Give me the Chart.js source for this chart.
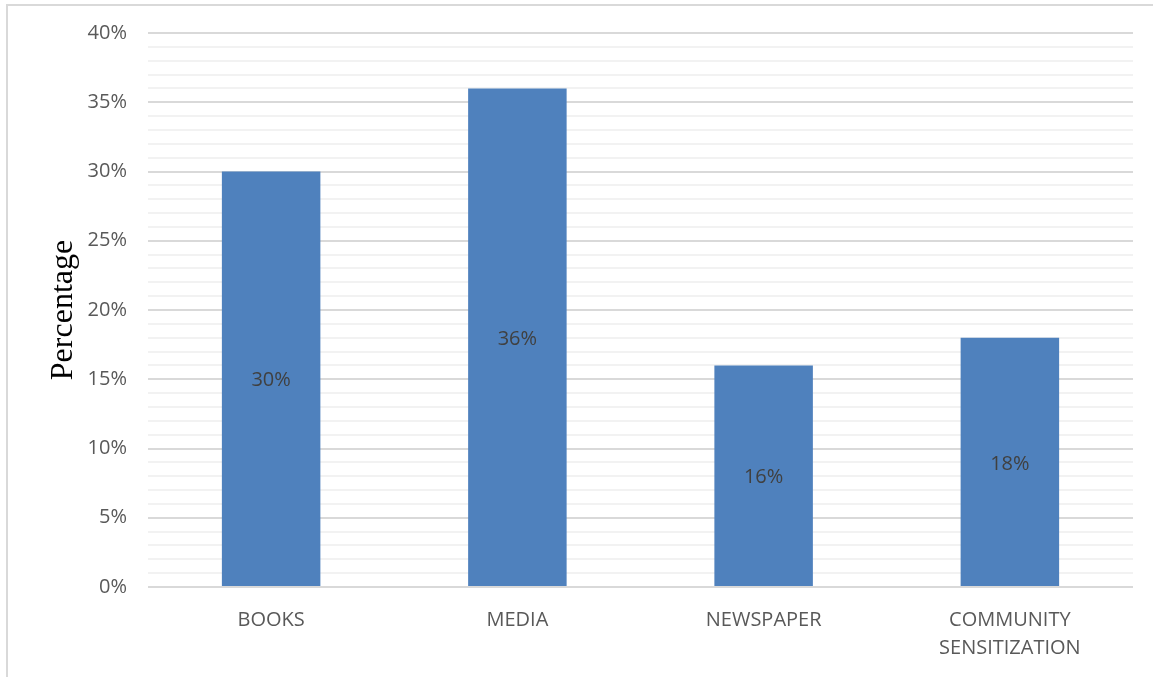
<!DOCTYPE html>
<html>
<head>
<meta charset="utf-8">
<script src="https://cdn.jsdelivr.net/npm/chart.js@4/dist/chart.umd.min.js"></script>
<style>
  html, body { margin: 0; padding: 0; background: #fff; overflow: hidden; }
  #frame { position: absolute; left: 6px; top: 4px; width: 1160px; height: 720px; border: 2px solid #d9d9d9; box-sizing: border-box; }
  #wrap { position: absolute; left: 0; top: 0; width: 1153px; height: 677px; }
</style>
</head>
<body>
<div id="frame"></div>
<div id="wrap"><canvas id="c" width="1153" height="677"></canvas></div>
<script>
const categories = [["BOOKS"], ["MEDIA"], ["NEWSPAPER"], ["COMMUNITY", "SENSITIZATION"]];
const values = [30, 36, 16, 18];
const yTitle = "Percentage";
const yMin = 0, yMax = 40, majorStep = 5, minorStep = 1;

const barLabels = {
  id: 'barLabels',
  afterDatasetsDraw(chart) {
    const ctx = chart.ctx;
    const meta = chart.getDatasetMeta(0);
    ctx.save();
    ctx.font = '20px "Open Sans"';
    ctx.fillStyle = '#404040';
    ctx.textAlign = 'center';
    ctx.textBaseline = 'middle';
    meta.data.forEach((bar, i) => {
      const p = bar.getProps(['x', 'y', 'base'], true);
      ctx.fillText(values[i] + '%', p.x, (p.y + p.base) / 2 + 2);
    });
    ctx.restore();
  }
};

new Chart(document.getElementById('c'), {
  type: 'bar',
  data: {
    labels: categories,
    datasets: [{
      data: values,
      backgroundColor: '#4f81bd',
      borderWidth: 0,
      categoryPercentage: 1,
      barPercentage: 0.4
    }]
  },
  options: {
    responsive: false,
    animation: false,
    events: [],
    layout: { padding: { top: 27, right: 20, left: 0, bottom: 0 } },
    plugins: { legend: { display: false }, tooltip: { enabled: false } },
    scales: {
      x: {
        grid: { display: false, drawTicks: false },
        border: { display: false },
        ticks: {
          color: '#595959',
          font: { family: 'Open Sans', size: 20, lineHeight: 1.4 },
          padding: 19,
          maxRotation: 0,
          autoSkip: false
        },
        afterFit(scale) { scale.height = 90; }
      },
      y: {
        min: yMin, max: yMax,
        grid: {
          drawTicks: false,
          color: (c) => (c.tick && c.tick.value % majorStep === 0) ? '#d9d9d9' : '#f2f2f2',
          lineWidth: 2
        },
        border: { display: false },
        ticks: {
          stepSize: minorStep,
          autoSkip: false,
          color: '#595959',
          font: { family: 'Open Sans', size: 20 },
          padding: 21,
          callback: (v) => (v % majorStep === 0) ? v + '%' : ''
        },
        title: {
          display: true,
          text: yTitle,
          color: '#000000',
          font: { family: 'Liberation Serif', size: 32 },
          padding: { top: 44, bottom: 0 }
        },
        afterFit(scale) { scale.width = 148; }
      }
    }
  },
  plugins: [barLabels]
});
</script>
</body>
</html>
